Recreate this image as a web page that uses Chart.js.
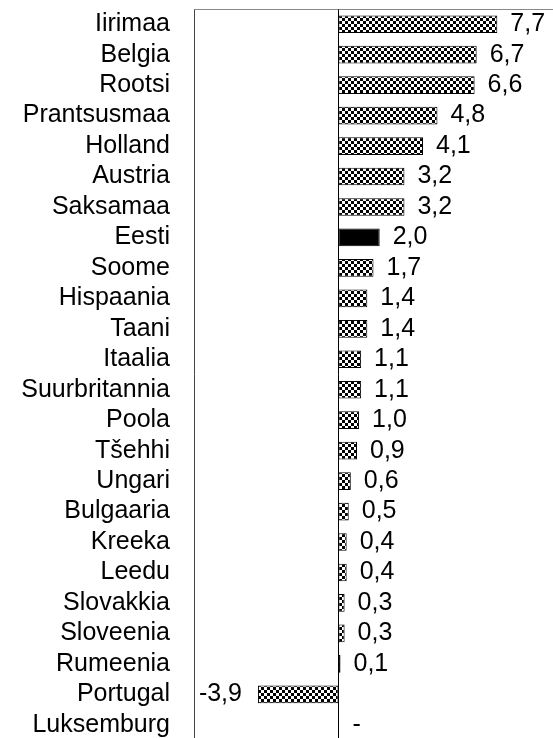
<!DOCTYPE html>
<html>
<head>
<meta charset="utf-8">
<script src="https://cdn.jsdelivr.net/npm/chart.js@4/dist/chart.umd.min.js"></script>
<style>
  html, body { margin: 0; padding: 0; background: #fff; overflow: hidden; }
  #wrap { width: 553px; height: 738px; overflow: hidden; }
</style>
</head>
<body>
<div id="wrap"><canvas id="c" width="553" height="740"></canvas></div>
<script>
const countries = ['Iirimaa', 'Belgia', 'Rootsi', 'Prantsusmaa', 'Holland', 'Austria', 'Saksamaa', 'Eesti',
  'Soome', 'Hispaania', 'Taani', 'Itaalia', 'Suurbritannia', 'Poola', 'Tšehhi', 'Ungari', 'Bulgaaria',
  'Kreeka', 'Leedu', 'Slovakkia', 'Sloveenia', 'Rumeenia', 'Portugal', 'Luksemburg'];
const values = [7.7, 6.7, 6.6, 4.8, 4.1, 3.2, 3.2, 2.0, 1.7, 1.4, 1.4, 1.1, 1.1, 1.0, 0.9, 0.6, 0.5,
  0.4, 0.4, 0.3, 0.3, 0.1, -3.9, null];
const highlight = 'Eesti';
const xMin = -7;
const xMax = 10.4;

const FONT = '"Liberation Sans", Arial, sans-serif';

// checkerboard fill like the original
function makePattern() {
  const p = document.createElement('canvas');
  p.width = 6; p.height = 6;
  const g = p.getContext('2d');
  g.fillStyle = '#fff';
  g.fillRect(0, 0, 6, 6);
  g.fillStyle = '#000';
  g.fillRect(0, 0, 3, 3);
  g.fillRect(3, 3, 3, 3);
  return g.createPattern(p, 'repeat');
}
const pattern = makePattern();
const fills = countries.map(c => c === highlight ? '#000' : pattern);

function fmt(v) {
  return v == null ? '-' : v.toFixed(1).replace('.', ',');
}

// frame: top + left border and the zero line
const frame = {
  id: 'frame',
  beforeDatasetsDraw(chart) {
    const { ctx, chartArea: a, scales } = chart;
    const x0 = Math.round(scales.x.getPixelForValue(0)) + 0.5;
    ctx.save();
    ctx.lineWidth = 1;
    ctx.strokeStyle = '#888';
    ctx.beginPath();
    ctx.moveTo(a.left + 0.5, a.top + 0.5);
    ctx.lineTo(a.right, a.top + 0.5);
    ctx.stroke();
    ctx.strokeStyle = '#444';
    ctx.beginPath();
    ctx.moveTo(a.left + 0.5, a.top + 0.5);
    ctx.lineTo(a.left + 0.5, a.bottom);
    ctx.stroke();
    ctx.strokeStyle = '#000';
    ctx.beginPath();
    ctx.moveTo(x0, a.top + 0.5);
    ctx.lineTo(x0, a.bottom);
    ctx.stroke();
    ctx.restore();
  }
};

// value labels next to the bar ends
const valueLabels = {
  id: 'valueLabels',
  afterDatasetsDraw(chart) {
    const { ctx, scales } = chart;
    const meta = chart.getDatasetMeta(0);
    ctx.save();
    ctx.font = '25px ' + FONT;
    ctx.fillStyle = '#000';
    ctx.textBaseline = 'middle';
    meta.data.forEach((bar, i) => {
      const v = values[i];
      const y = scales.y.getPixelForValue(i);
      if (v == null) {
        ctx.textAlign = 'left';
        ctx.fillText('-', scales.x.getPixelForValue(0) + 14, y);
      } else if (v < 0) {
        ctx.textAlign = 'right';
        ctx.fillText(fmt(v), bar.x - 16, y);
      } else {
        ctx.textAlign = 'left';
        ctx.fillText(fmt(v), bar.x + 13, y);
      }
    });
    ctx.restore();
  }
};

new Chart(document.getElementById('c'), {
  type: 'bar',
  data: {
    labels: countries,
    datasets: [{
      data: values,
      backgroundColor: fills,
      borderColor: '#000',
      borderWidth: 1,
      borderSkipped: false,
      barPercentage: 0.58,
      categoryPercentage: 1
    }]
  },
  options: {
    indexAxis: 'y',
    responsive: false,
    animation: false,
    devicePixelRatio: 1,
    layout: { padding: { top: 9, left: 0, right: 0, bottom: 0 } },
    plugins: { legend: { display: false }, tooltip: { enabled: false } },
    scales: {
      x: {
        display: false,
        min: xMin,
        max: xMax
      },
      y: {
        grid: { display: false, drawTicks: false, tickLength: 0 },
        border: { display: false },
        ticks: {
          padding: 24,
          color: '#000',
          font: { family: FONT, size: 25 },
          autoSkip: false
        },
        afterFit(scale) {
          scale.width = 194;
          scale.paddingTop = 0;
          scale.paddingBottom = 0;
        }
      }
    }
  },
  plugins: [frame, valueLabels]
});
</script>
</body>
</html>
